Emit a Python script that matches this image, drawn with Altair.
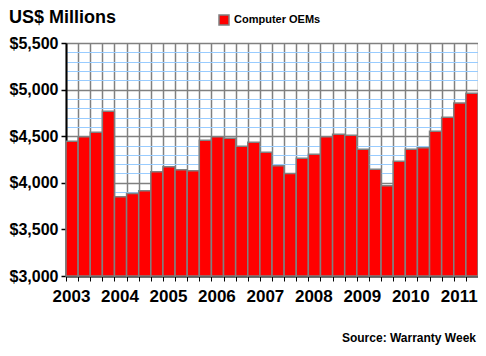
import altair as alt
import pandas as pd

years = [2003, 2004, 2005, 2006, 2007, 2008, 2009, 2010, 2011]
values = [4446, 4493, 4543, 4768,
          3850, 3886, 3914, 4118,
          4171, 4139, 4129, 4457,
          4493, 4479, 4393, 4436,
          4329, 4182, 4100, 4264,
          4307, 4493, 4521, 4511,
          4361, 4146, 3968, 4232,
          4361, 4375, 4554, 4704,
          4857, 4961]
series_name = "Computer OEMs"
y_min, y_max = 3000, 5500
title_text = "US$ Millions"
source_text = "Source: Warranty Week"

n = len(values)
df = pd.DataFrame({"i": list(range(n)), "value": values})
df["i2"] = df["i"] + 1
df["series"] = series_name
df["base"] = y_min

FONT = "Liberation Sans"
W, H = 412, 233
PAD_L, PAD_T = 58, 35

major = "datum.value % 500 == 0"

x_axis = alt.Axis(
    values=list(range(n + 1)),
    labelExpr=f"datum.value % 4 == 0 && datum.value < {n} ? toString({years[0]} + datum.value / 4) : ''",
    labelOffset=5,
    labelOverlap=False,
    labelFlush=False,
    labelFont=FONT, labelFontSize=17, labelFontWeight="bold", labelColor="black",
    labelPadding=7,
    grid=True, gridColor="#808080", gridWidth=1.5,
    tickSize=5, tickColor="black", tickWidth=1,
    domainColor="black", domainWidth=2,
    title=None,
)

y_axis = alt.Axis(
    values=list(range(y_min, y_max + 1, 100)),
    labelExpr=f"{major} ? format(datum.value, '$,.0f') : ''",
    labelOverlap=False,
    labelFlush=False,
    labelFont=FONT, labelFontSize=16, labelFontWeight="bold", labelColor="black",
    labelPadding=3,
    grid=True,
    gridColor={"condition": {"test": major, "value": "#808080"}, "value": "#99ccff"},
    gridWidth={"condition": {"test": major, "value": 1.5}, "value": 1},
    tickSize=5, tickColor="black", tickWidth=1.5,
    tickOpacity={"condition": {"test": major, "value": 1}, "value": 0},
    domainColor="black", domainWidth=2,
    title=None,
)

bars = alt.Chart(df).mark_bar(stroke="#808080", strokeWidth=1.5).encode(
    x=alt.X("i:Q", scale=alt.Scale(domain=[0, n], nice=False, zero=False), axis=x_axis),
    x2="i2:Q",
    y=alt.Y("value:Q", scale=alt.Scale(domain=[y_min, y_max], nice=False, zero=False), axis=y_axis),
    y2="base:Q",
    color=alt.Color(
        "series:N",
        scale=alt.Scale(range=["#ff0000"]),
        legend=alt.Legend(
            title=None, orient="none", legendX=152, legendY=-29,
            symbolType="square", symbolSize=100,
            symbolStrokeColor="#808080", symbolStrokeWidth=1.5,
            labelFont=FONT, labelFontSize=11, labelFontWeight="bold", labelColor="black",
            labelOffset=4, padding=0,
        ),
    ),
)

title = alt.Chart(pd.DataFrame({"t": [title_text]})).mark_text(
    align="left", baseline="alphabetic", font=FONT, fontSize=18, fontWeight="bold", color="black"
).encode(x=alt.value(-57), y=alt.value(-20), text="t:N")

source = alt.Chart(pd.DataFrame({"t": [source_text]})).mark_text(
    align="right", baseline="alphabetic", font=FONT, fontSize=12, fontWeight="bold", color="black"
).encode(x=alt.value(410), y=alt.value(299), text="t:N")

chart = alt.layer(bars, title, source).properties(
    width=W, height=H,
    autosize=alt.AutoSizeParams(type="none"),
    padding={"left": PAD_L, "top": PAD_T, "right": 0, "bottom": 70},
).configure_view(strokeOpacity=0)

chart.save("out.html", embed_options={"renderer": "svg", "actions": False})
